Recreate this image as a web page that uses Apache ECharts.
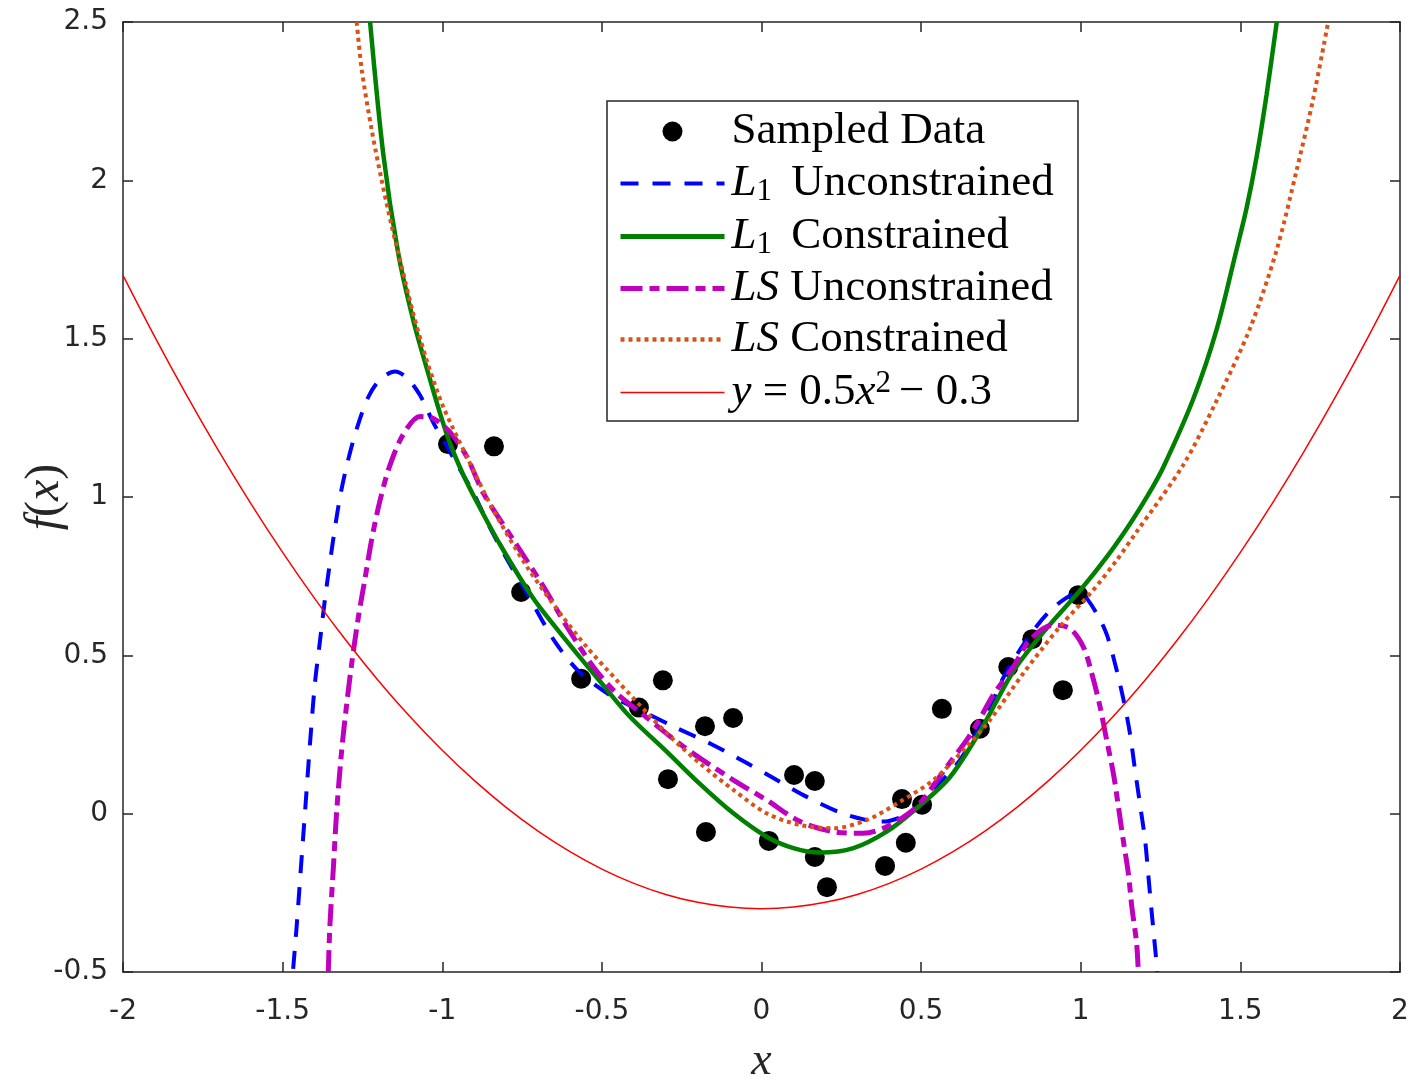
<!DOCTYPE html>
<html>
<head>
<meta charset="utf-8">
<script src="https://cdn.jsdelivr.net/npm/echarts@6/dist/echarts.min.js"></script>
<style>html,body{margin:0;padding:0;background:#fff;}#chart{width:1410px;height:1081px;}</style>
</head>
<body>
<div id="chart"></div>
<script>
// ---- axis ticks ----
const xTicks = [-2, -1.5, -1, -0.5, 0, 0.5, 1, 1.5, 2];
const xTickLabels = ['-2', '-1.5', '-1', '-0.5', '0', '0.5', '1', '1.5', '2'];
const yTicks = [-0.5, 0, 0.5, 1, 1.5, 2, 2.5];
const yTickLabels = ['-0.5', '0', '0.5', '1', '1.5', '2', '2.5'];

// ---- series names ----
const seriesNames = ['Sampled Data', 'L1 Unconstrained', 'L1 Constrained', 'LS Unconstrained', 'LS Constrained', 'y = 0.5x^2 - 0.3'];

// ---- sampled data ----
const sampleX = [-0.982, -0.838, -0.753, -0.565, -0.384, -0.309, -0.293, -0.177, -0.174, -0.089, 0.023, 0.102, 0.167, 0.167, 0.205, 0.387, 0.440, 0.452, 0.503, 0.565, 0.684, 0.773, 0.848, 0.944, 0.992];
const sampleY = [1.167, 1.160, 0.700, 0.426, 0.335, 0.421, 0.109, 0.276, -0.058, 0.302, -0.086, 0.122, 0.103, -0.137, -0.232, -0.165, 0.046, -0.092, 0.028, 0.331, 0.268, 0.463, 0.551, 0.390, 0.690];

// ---- L1 unconstrained ----
const l1UncX = [-1.467, -1.456, -1.440, -1.430, -1.414, -1.399, -1.383, -1.367, -1.352, -1.336, -1.320, -1.299, -1.268, -1.232, -1.195, -1.148, -1.111, -1.070, -1.028, -0.986, -0.955, -0.903, -0.849, -0.798, -0.721, -0.645, -0.568, -0.466, -0.370, -0.277, -0.152, -0.046, 0.048, 0.142, 0.245, 0.320, 0.380, 0.450, 0.507, 0.538, 0.622, 0.711, 0.762, 0.839, 0.913, 0.990, 1.019, 1.076, 1.107, 1.133, 1.154, 1.170, 1.186, 1.202, 1.212, 1.222, 1.233, 1.240];
const l1UncY = [-0.490, -0.355, -0.133, 0.003, 0.225, 0.410, 0.545, 0.681, 0.792, 0.903, 1.001, 1.100, 1.215, 1.315, 1.371, 1.396, 1.377, 1.322, 1.235, 1.161, 1.105, 1.014, 0.900, 0.805, 0.671, 0.540, 0.445, 0.369, 0.322, 0.276, 0.217, 0.160, 0.106, 0.053, 0.004, -0.018, -0.025, -0.005, 0.034, 0.075, 0.170, 0.328, 0.438, 0.561, 0.649, 0.695, 0.680, 0.580, 0.475, 0.364, 0.254, 0.138, 0.027, -0.088, -0.199, -0.309, -0.425, -0.500];

// ---- L1 constrained ----
const l1ConX = [-1.226, -1.185, -1.138, -1.091, -1.044, -1.007, -0.976, -0.935, -0.892, -0.819, -0.715, -0.610, -0.506, -0.412, -0.297, -0.193, -0.088, 0.016, 0.100, 0.183, 0.288, 0.392, 0.486, 0.590, 0.690, 0.789, 0.893, 0.998, 1.081, 1.154, 1.210, 1.259, 1.353, 1.426, 1.488, 1.520, 1.551, 1.582, 1.614];
const l1ConY = [2.500, 2.085, 1.770, 1.559, 1.391, 1.264, 1.170, 1.072, 0.985, 0.850, 0.680, 0.545, 0.418, 0.306, 0.196, 0.094, 0.001, -0.073, -0.109, -0.123, -0.109, -0.057, 0.017, 0.115, 0.270, 0.450, 0.585, 0.705, 0.810, 0.915, 1.005, 1.095, 1.311, 1.530, 1.781, 1.915, 2.075, 2.270, 2.500];

// ---- LS unconstrained ----
const lsUncX = [-1.357, -1.352, -1.341, -1.331, -1.315, -1.299, -1.284, -1.263, -1.242, -1.221, -1.195, -1.164, -1.122, -1.070, -1.028, -0.976, -0.923, -0.871, -0.777, -0.683, -0.610, -0.527, -0.454, -0.370, -0.245, -0.088, 0.016, 0.121, 0.225, 0.319, 0.392, 0.486, 0.580, 0.643, 0.684, 0.726, 0.789, 0.841, 0.914, 0.966, 1.008, 1.034, 1.060, 1.081, 1.102, 1.118, 1.133, 1.149, 1.160, 1.175, 1.180];
const lsUncY = [-0.500, -0.355, -0.170, 0.003, 0.200, 0.348, 0.471, 0.619, 0.742, 0.866, 0.989, 1.100, 1.198, 1.254, 1.248, 1.205, 1.127, 1.012, 0.864, 0.717, 0.591, 0.464, 0.380, 0.312, 0.212, 0.106, 0.043, -0.025, -0.057, -0.062, -0.041, 0.022, 0.148, 0.233, 0.300, 0.375, 0.464, 0.549, 0.596, 0.585, 0.527, 0.445, 0.340, 0.233, 0.128, 0.022, -0.083, -0.188, -0.294, -0.409, -0.494];

// ---- LS constrained ----
const lsConX = [-1.268, -1.252, -1.221, -1.190, -1.158, -1.127, -1.091, -1.049, -0.997, -0.923, -0.840, -0.735, -0.631, -0.548, -0.454, -0.360, -0.297, -0.193, -0.088, 0.016, 0.121, 0.225, 0.330, 0.434, 0.538, 0.643, 0.716, 0.820, 0.935, 1.039, 1.113, 1.175, 1.321, 1.426, 1.530, 1.614, 1.676, 1.728, 1.775];
const lsConY = [2.500, 2.348, 2.159, 2.001, 1.854, 1.727, 1.580, 1.433, 1.285, 1.127, 0.959, 0.780, 0.633, 0.527, 0.422, 0.320, 0.254, 0.159, 0.075, 0.001, -0.036, -0.046, -0.020, 0.038, 0.106, 0.212, 0.296, 0.443, 0.591, 0.706, 0.801, 0.890, 1.101, 1.305, 1.532, 1.781, 2.031, 2.257, 2.500];

// ---- reference parabola (read values) ----
const refX = [-2.0, -1.9, -1.8, -1.7, -1.6, -1.5, -1.4, -1.3, -1.2, -1.1, -1.0, -0.9, -0.8, -0.7, -0.6, -0.5, -0.4, -0.3, -0.2, -0.1, 0.0, 0.1, 0.2, 0.3, 0.4, 0.5, 0.6, 0.7, 0.8, 0.9, 1.0, 1.1, 1.2, 1.3, 1.4, 1.5, 1.6, 1.7, 1.8, 1.9, 2.0];
const refY = [1.700, 1.505, 1.320, 1.145, 0.980, 0.825, 0.680, 0.545, 0.420, 0.305, 0.200, 0.105, 0.020, -0.055, -0.120, -0.175, -0.220, -0.255, -0.280, -0.295, -0.300, -0.295, -0.280, -0.255, -0.220, -0.175, -0.120, -0.055, 0.020, 0.105, 0.200, 0.305, 0.420, 0.545, 0.680, 0.825, 0.980, 1.145, 1.320, 1.505, 1.700];

const pairs = (xs, ys) => xs.map((x, i) => [x, ys[i]]);
const AX = '#262626';
const SERIF = "'Liberation Serif', 'Times New Roman', serif";
const SANS = "'DejaVu Sans', 'Liberation Sans', Arial, sans-serif";

function tickFmt(ticks, labels) {
  return function (v) {
    for (let i = 0; i < ticks.length; i++) if (Math.abs(ticks[i] - v) < 1e-9) return labels[i];
    return '';
  };
}

const legendRich = {
  r: { fontFamily: SERIF, fontSize: 45, lineHeight: 40, color: '#000' },
  i: { fontFamily: SERIF, fontSize: 45, fontStyle: 'italic', lineHeight: 40, color: '#000' },
  sub: { fontFamily: SERIF, fontSize: 31, lineHeight: 24, padding: [16, 8, 0, 0], color: '#000' },
  sup: { fontFamily: SERIF, fontSize: 31, lineHeight: 24, padding: [0, 8, 18, 0], color: '#000' }
};
const legendLabels = {
  'Sampled Data': '{r|Sampled Data}',
  'L1 Unconstrained': '{i|L}{sub|1}{r| Unconstrained}',
  'L1 Constrained': '{i|L}{sub|1}{r| Constrained}',
  'LS Unconstrained': '{i|LS}{r| Unconstrained}',
  'LS Constrained': '{i|LS}{r| Constrained}',
  'y = 0.5x^2 - 0.3': '{i|y}{r| = 0.5}{i|x}{sup|2}{r|− 0.3}'
};

const baseX = {
  type: 'value', min: -2, max: 2, interval: 0.5,
  axisLine: { show: true, onZero: false, lineStyle: { color: AX, width: 1.5 } },
  axisTick: { show: true, inside: true, length: 10, lineStyle: { color: AX, width: 1.5 } },
  splitLine: { show: false }
};
const baseY = {
  type: 'value', min: -0.5, max: 2.5, interval: 0.5,
  axisLine: { show: true, onZero: false, lineStyle: { color: AX, width: 1.5 } },
  axisTick: { show: true, inside: true, length: 10, lineStyle: { color: AX, width: 1.5 } },
  splitLine: { show: false }
};
const hiddenSymbol = { color: 'rgba(0,0,0,0)', borderWidth: 0, opacity: 0 };

const chart = echarts.init(document.getElementById('chart'), null, { renderer: 'canvas' });
chart.setOption({
  animation: false,
  backgroundColor: '#fff',
  grid: { left: 123, right: 10, top: 22, bottom: 109, containLabel: false, outerBoundsMode: 'none' },
  xAxis: [
    Object.assign({}, baseX, {
      position: 'bottom',
      axisLabel: { show: true, color: AX, fontSize: 28, fontFamily: SANS, margin: 26, formatter: tickFmt(xTicks, xTickLabels) },
      name: 'x', nameLocation: 'middle', nameGap: 67, nameMoveOverlap: false,
      nameTextStyle: { fontFamily: SERIF, fontStyle: 'italic', fontSize: 46, color: AX }
    }),
    Object.assign({}, baseX, { position: 'top', axisLabel: { show: false } })
  ],
  yAxis: [
    Object.assign({}, baseY, {
      position: 'left',
      axisLabel: { show: true, color: AX, fontSize: 28, fontFamily: SANS, margin: 15, formatter: tickFmt(yTicks, yTickLabels) },
      name: '{i|f}{r|(}{i|x}{r|)}', nameLocation: 'middle', nameGap: 54, nameRotate: 90, nameMoveOverlap: false,
      nameTextStyle: {
        color: AX,
        rich: {
          i: { fontFamily: SERIF, fontStyle: 'italic', fontSize: 48, color: AX },
          r: { fontFamily: SERIF, fontSize: 48, color: AX }
        }
      }
    }),
    Object.assign({}, baseY, { position: 'right', axisLabel: { show: false } })
  ],
  graphic: [{
    type: 'rect', z: 3,
    shape: { x: 607, y: 101, width: 471, height: 320 },
    style: { fill: '#fff', stroke: AX, lineWidth: 1.5 }
  }],
  legend: {
    orient: 'vertical', left: 607, top: 101,
    padding: [8, 10, 12, 11],
    itemWidth: 104, itemHeight: 20, itemGap: 6,
    z: 5,
    formatter: function (name) { return legendLabels[name]; },
    textStyle: { rich: legendRich, padding: [0, 0, 0, 2] },
    data: [
      { name: seriesNames[0], icon: 'circle', itemStyle: { color: '#000', opacity: 1 } },
      { name: seriesNames[1], lineStyle: { width: 4 }, itemStyle: hiddenSymbol },
      { name: seriesNames[2], lineStyle: { width: 5 }, itemStyle: hiddenSymbol },
      { name: seriesNames[3], lineStyle: { width: 5 }, itemStyle: hiddenSymbol },
      { name: seriesNames[4], lineStyle: { width: 4.5 }, itemStyle: hiddenSymbol },
      { name: seriesNames[5], lineStyle: { width: 1.5 }, itemStyle: hiddenSymbol }
    ]
  },
  series: [
    {
      name: seriesNames[0], type: 'scatter', xAxisIndex: 0, yAxisIndex: 0,
      data: pairs(sampleX, sampleY), symbol: 'circle', symbolSize: 20,
      itemStyle: { color: '#000', opacity: 1 }, z: 1
    },
    {
      name: seriesNames[1], type: 'line', xAxisIndex: 0, yAxisIndex: 0,
      data: pairs(l1UncX, l1UncY), symbol: 'none', smooth: 0.3, clip: true,
      lineStyle: { color: '#0000ff', width: 4, type: [18, 14] }, itemStyle: { color: '#0000ff' }, z: 2
    },
    {
      name: seriesNames[2], type: 'line', xAxisIndex: 0, yAxisIndex: 0,
      data: pairs(l1ConX, l1ConY), symbol: 'none', smooth: 0.3, clip: true,
      lineStyle: { color: '#008000', width: 4.5, type: 'solid' }, itemStyle: { color: '#008000' }, z: 3
    },
    {
      name: seriesNames[3], type: 'line', xAxisIndex: 0, yAxisIndex: 0,
      data: pairs(lsUncX, lsUncY), symbol: 'none', smooth: 0.3, clip: true,
      lineStyle: { color: '#bf00bf', width: 5, type: [22, 7, 10, 7] }, itemStyle: { color: '#bf00bf' }, z: 4
    },
    {
      name: seriesNames[4], type: 'line', xAxisIndex: 0, yAxisIndex: 0,
      data: pairs(lsConX, lsConY), symbol: 'none', smooth: 0.3, clip: true,
      lineStyle: { color: '#d95319', width: 4, type: [4, 4] }, itemStyle: { color: '#d95319' }, z: 5
    },
    {
      name: seriesNames[5], type: 'line', xAxisIndex: 0, yAxisIndex: 0,
      data: pairs(refX, refY), symbol: 'none', smooth: 0.3, clip: true,
      lineStyle: { color: '#ff0000', width: 1.5 }, itemStyle: { color: '#ff0000' }, z: 6
    }
  ]
});
</script>
</body>
</html>
